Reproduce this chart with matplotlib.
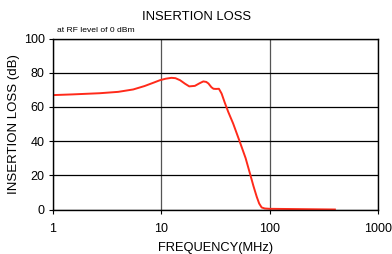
import numpy as np
import matplotlib.pyplot as plt

plt.rcParams['font.family'] = ['Liberation Sans', 'DejaVu Sans']

# values
freq_mhz = [1, 1.5, 2.7, 4, 5.5, 7, 8.5, 9.7, 11, 12.4, 13.5, 14.9, 16.5, 18.1,
            20.4, 22.5, 24.4, 26, 27.2, 29, 30.3, 32, 34, 36, 38.5, 41.5, 46,
            53, 60, 65.8, 71, 76, 80, 84.3, 90, 100, 200, 400]
loss_db = [66.9, 67.3, 68.0, 68.8, 70.2, 72.2, 74.2, 75.6, 76.5, 77.0, 76.8, 75.6,
           73.6, 72.0, 72.3, 73.8, 74.9, 74.6, 73.7, 71.5, 70.6, 70.5, 70.6, 67.8,
           62.5, 57.0, 50.3, 39.6, 30.0, 21.0, 13.5, 7.4, 3.5, 1.2, 0.6, 0.4, 0.2, 0.0]

fig = plt.figure(figsize=(3.92, 2.54), dpi=100)
ax = fig.add_axes([53/392, 1 - 209.5/254, 325/392, 171/254])

ax.plot(freq_mhz, loss_db, color='#ff2a1a', lw=1.4)

ax.set_xscale('log')
ax.set_xlim(1, 1000)
ax.set_ylim(0, 100)
ax.set_xticks([1, 10, 100, 1000])
ax.set_xticklabels(['1', '10', '100', '1000'])
ax.xaxis.set_minor_locator(plt.NullLocator())
ax.set_yticks([0, 20, 40, 60, 80, 100])

ax.grid(axis='y', color='black', lw=0.9)
ax.grid(axis='x', color='#555555', lw=0.9)
for s in ax.spines.values():
    s.set_color('black')
    s.set_linewidth(1.0)

ax.tick_params(labelsize=9, length=3, width=0.8, direction='out', pad=3)
ax.tick_params(axis='x', pad=7)
ax.set_xlabel('FREQUENCY(MHz)', fontsize=9.3, labelpad=4.5)
ax.set_ylabel('INSERTION LOSS (dB)', fontsize=9.5, labelpad=3)
fig.text(0.5, 1 - 17/254, 'INSERTION LOSS', ha='center', va='center', fontsize=9.4)
fig.text(57/392, 1 - 30.5/254, 'at RF level of 0 dBm', ha='left', va='center', fontsize=6.1)

fig.savefig('out.png', dpi=100)
